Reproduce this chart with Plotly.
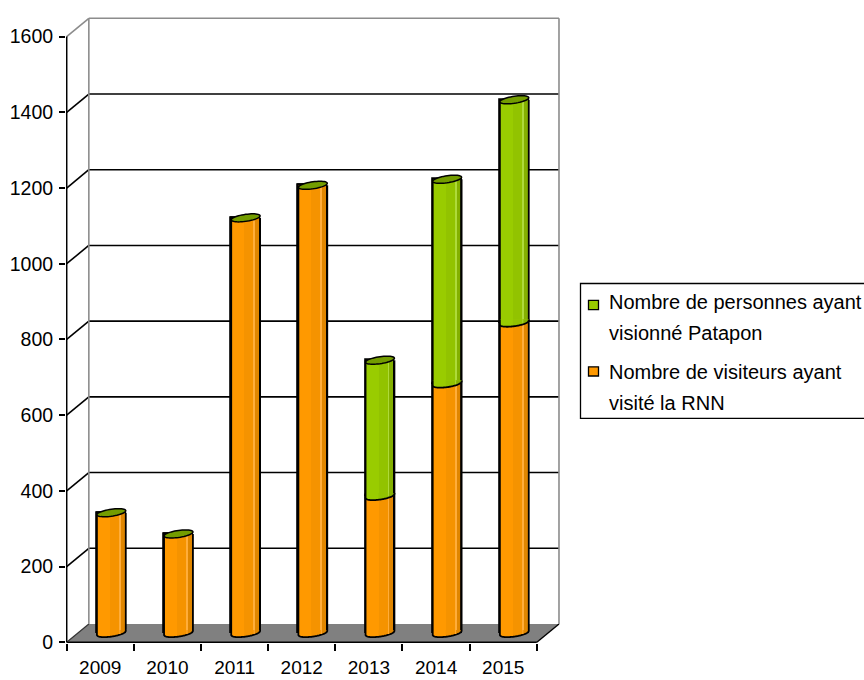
import numpy as np
import plotly.graph_objects as go

# ---- data -------------------------------------------------------------
years = ["2009", "2010", "2011", "2012", "2013", "2014", "2015"]
visiteurs_rnn = [318, 262, 1097, 1183, 362, 659, 820]   # Nombre de visiteurs ayant visité la RNN
patapon = [0, 0, 0, 0, 359, 540, 589]                    # Nombre de personnes ayant visionné Patapon
y_ticks = [0, 200, 400, 600, 800, 1000, 1200, 1400, 1600]
legend_lines = {
    "patapon": ["Nombre de personnes ayant", "visionné Patapon"],
    "rnn": ["Nombre de visiteurs ayant", "visité la RNN"],
}

# ---- pseudo-3D box geometry (axis units) -------------------------------
PX_X, PX_Y = 67.16, 0.3785          # pixels per axis unit (x, y)
DX, DY = 0.33, 48.3                 # depth of the box: back wall offset
MX, MY = DX / 2, DY / 2             # cylinders stand half way in depth
W = 0.43                            # cylinder width (category units)
A = W / 2
CAP_B = 3.5 / PX_Y                  # half height of the elliptic caps
CAP_K = 2.0 / PX_Y                  # tilt of the caps
BAND = CAP_K + 1.2 / PX_Y
EDGE = 1.2 / PX_X                   # keeps inner shading off the outline
YMAX = y_ticks[-1]
x_lo, x_hi = -0.5, len(years) - 0.5

FONT = "Liberation Sans, Arial, sans-serif"

# shading bands across a cylinder: (start, end, colour) layered left to right
ORANGE = [(0.0, 1.0, "#FF9900"), (0.45, 1.0, "#F59300"), (0.81, 1.0, "#E08600"), (0.78, 0.81, "#FFAD3A")]
GREEN = [(0.0, 1.0, "#99CC00"), (0.45, 1.0, "#92C300"), (0.81, 1.0, "#84B000"), (0.78, 0.81, "#AEDA3A")]
CAP_COLOR = "#739C00"
OUTLINE = dict(color="black", width=1.8)

idx = list(range(len(years)))
rnn_base = [MY] * len(years)
patapon_base = [MY + v for v in visiteurs_rnn]

fig = go.Figure()


def add_cylinders(values, base, bands, name):
    for k, (f0, f1, col) in enumerate(bands):
        x0 = W * f0
        x1 = W * f1 - (EDGE if f1 >= 1.0 and k > 0 else 0)
        fig.add_trace(go.Bar(
            x=idx, y=values, base=base, width=x1 - x0, offset=MX - A + x0,
            marker=dict(color=col, line=OUTLINE if k == 0 else dict(width=0)),
            name=name, showlegend=False, hoverinfo="skip"))


add_cylinders(visiteurs_rnn, rnn_base, ORANGE, "rnn")
add_cylinders(patapon, patapon_base, GREEN, "patapon")

shapes = []


def line(x0, y0, x1, y1, color="black", width=1.5, layer="below"):
    shapes.append(dict(type="line", x0=x0, y0=y0, x1=x1, y1=y1, xref="x", yref="y",
                       line=dict(color=color, width=width), layer=layer))


def path(pts, closed=True):
    s = "M " + " L ".join(f"{x:.5f},{y:.4f}" for x, y in pts)
    return s + (" Z" if closed else "")


# floor
floor = [(x_lo, 0), (x_hi, 0), (x_hi + DX, DY), (x_lo + DX, DY)]
shapes.append(dict(type="path", path=path(floor), xref="x", yref="y",
                   fillcolor="#808080", line=dict(width=0), layer="below"))
line(x_lo, 0, x_hi, 0, width=1.6)
line(x_hi, 0, x_hi + DX, DY, width=1.4)
line(x_lo, 0, x_lo + DX, DY, color="#333333", width=1.2)

# back wall grid and side-wall diagonals
for v in y_ticks[1:-1]:
    line(x_lo + DX, v + DY, x_hi + DX, v + DY, width=1.6)
    line(x_lo, v, x_lo + DX, v + DY, width=1.6)
GRAY = "#8C8C8C"
line(x_lo, YMAX, x_lo + DX, YMAX + DY, color=GRAY, width=1.6)
line(x_lo + DX, YMAX + DY, x_hi + DX, YMAX + DY, color=GRAY, width=1.6)
line(x_lo + DX, DY, x_lo + DX, YMAX + DY, color=GRAY, width=1.6)
line(x_hi + DX, DY, x_hi + DX, YMAX + DY, color=GRAY, width=1.6)
# front value axis
line(x_lo, 0, x_lo, YMAX, width=1.6, layer="above")


def lower_arc(cx, cy, x0, x1, n=24):
    xs = np.linspace(x0, x1, n)
    u = np.clip((xs - cx) / A, -1, 1)
    ys = cy + CAP_K * u - CAP_B * np.sqrt(np.clip(1 - u * u, 0, 1))
    return list(zip(xs, ys))


def bottom_cap(cx, cy, bands):
    # rounded lower edge of a cylinder segment
    for f0, f1, col in bands:
        xa, xb = cx - A + W * f0, cx - A + W * f1
        pts = [(xa, cy + BAND), (xb, cy + BAND)] + lower_arc(cx, cy, xb, xa)
        shapes.append(dict(type="path", path=path(pts), xref="x", yref="y",
                           fillcolor=col, line=dict(width=0), layer="above"))
    edge = [(cx - A, cy + BAND)] + lower_arc(cx, cy, cx - A, cx + A, 40) + [(cx + A, cy + BAND)]
    shapes.append(dict(type="path", path=path(edge, closed=False), xref="x", yref="y",
                       fillcolor="rgba(0,0,0,0)", line=OUTLINE, layer="above"))


def sides(cx, y0, y1):
    # silhouette of a cylinder segment
    line(cx - A, y0, cx - A, y1, width=OUTLINE["width"], layer="above")
    line(cx + A, y0, cx + A, y1, width=OUTLINE["width"], layer="above")


def top_cap(cx, cy):
    t = np.linspace(0, 2 * np.pi, 48, endpoint=False)
    pts = list(zip(cx + A * np.cos(t), cy + CAP_B * np.sin(t) + CAP_K * np.cos(t)))
    shapes.append(dict(type="path", path=path(pts), xref="x", yref="y",
                       fillcolor=CAP_COLOR, line=dict(color="black", width=1.5), layer="above"))


for i in idx:
    cx = i + MX
    total = patapon_base[i] + patapon[i]
    sides(cx, rnn_base[i] + BAND, total)
    bottom_cap(cx, rnn_base[i], ORANGE)
    if patapon[i] > 0:
        bottom_cap(cx, patapon_base[i], GREEN)
    top_cap(cx, total)

# legend box (drawn in pixel-based paper coordinates)
L, R, T, B = 66, 303, 12, 37
PW, PH = 864 - L - R, 680 - T - B


def px(xp):
    return (xp - L) / PW


def py(yp):
    return (680 - B - yp) / PH


shapes.append(dict(type="rect", xref="paper", yref="paper", x0=px(580.5), x1=px(900),
                   y0=py(418.3), y1=py(283.5), line=dict(color="black", width=1.3),
                   fillcolor="white", layer="above"))
annotations = []
for (key, col, sq_y, text_y) in (("patapon", "#99CC00", 305.0, (302, 333)),
                                 ("rnn", "#FF9900", 371.4, (372, 403))):
    shapes.append(dict(type="rect", xref="paper", yref="paper", x0=px(588.5), x1=px(598.5),
                       y0=py(sq_y + 4.6), y1=py(sq_y - 4.6), fillcolor=col,
                       line=dict(color="black", width=1.3), layer="above"))
    for txt, ty in zip(legend_lines[key], text_y):
        annotations.append(dict(xref="paper", yref="paper", x=px(607), y=py(ty),
                                xanchor="left", yanchor="middle", showarrow=False, text=txt,
                                font=dict(family=FONT, size=20, color="black")))

fig.update_layout(
    width=864, height=680,
    margin=dict(l=L, r=R, t=T, b=B, pad=0, autoexpand=False),
    paper_bgcolor="white", plot_bgcolor="white",
    barmode="overlay", bargap=0, showlegend=False,
    font=dict(family=FONT, size=19.5, color="black"),
    shapes=shapes, annotations=annotations,
    xaxis=dict(range=[-0.51, 6.86], tickmode="array", tickvals=idx, ticktext=years,
               ticks="outside", ticklen=7, tickcolor="rgba(0,0,0,0)", automargin=False,
               ticklabelstandoff=0,
               showgrid=False, zeroline=False, showline=False, fixedrange=True,
               tickfont=dict(family=FONT, size=19, color="black"),
               minor=dict(tickmode="array", tickvals=[i - 0.5 for i in range(len(years) + 1)],
                          ticks="outside", ticklen=7, tickwidth=1.5, tickcolor="black",
                          showgrid=False)),
    yaxis=dict(range=[-2, 1665], tickmode="array", tickvals=y_ticks,
               ticks="outside", ticklen=6, tickwidth=1.5, tickcolor="black",
               ticklabelstandoff=2, automargin=False,
               showgrid=False, zeroline=False, showline=False, fixedrange=True,
               tickfont=dict(family=FONT, size=19.5, color="black")),
)

fig.write_html("out.html")
